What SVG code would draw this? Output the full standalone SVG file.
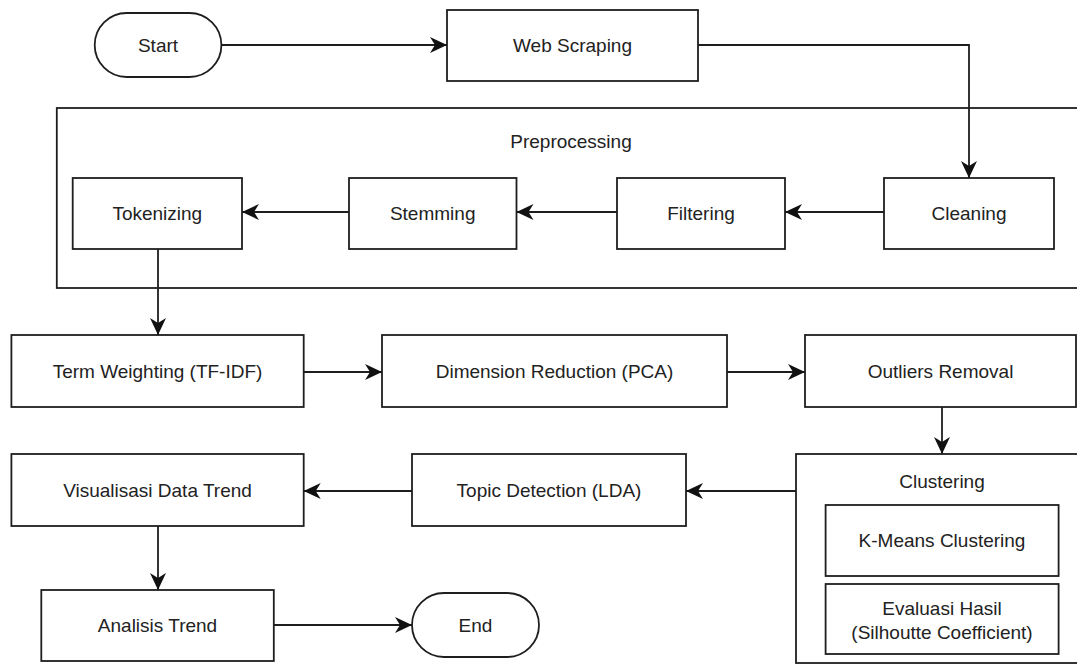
<svg xmlns="http://www.w3.org/2000/svg" width="1077" height="664" viewBox="0 0 1077 664">
  <style>
    .box { fill: #ffffff; stroke: #1e1e1e; stroke-width: 1.8; }
    .frame { fill: none; stroke: #1e1e1e; stroke-width: 1.8; }
    .lbl { font-family: "Liberation Sans", Arial, sans-serif; font-size: 19px; fill: #222222; text-anchor: middle; }
    .edge { fill: none; stroke: #1e1e1e; stroke-width: 1.8; marker-end: url(#arrow); }
  </style>
  <defs>
    <marker id="arrow" markerUnits="userSpaceOnUse" markerWidth="18" markerHeight="16" refX="17" refY="8" orient="auto">
      <path d="M0,0 L17,8 L0,16 L5,8 Z" fill="#111111"/>
    </marker>
  </defs>
  <rect width="1077" height="664" fill="#ffffff"/>

  <!-- containers -->
  <g id="preprocessing">
    <rect class="frame" x="56.8" y="108" width="1040" height="180"/>
    <text class="lbl" x="571" y="147.5">Preprocessing</text>
  </g>
  <g id="clustering">
    <rect class="box" x="796" y="454" width="300" height="209"/>
    <text class="lbl" x="942" y="487.5">Clustering</text>
  </g>

  <!-- process steps -->
  <g id="start">
    <rect class="box" x="94.7" y="13" width="126.7" height="64" rx="32" ry="32"/>
    <text class="lbl" x="158" y="51.5">Start</text>
  </g>
  <g id="web-scraping">
    <rect class="box" x="447" y="10" width="251" height="71"/>
    <text class="lbl" x="572.5" y="52">Web Scraping</text>
  </g>
  <g id="cleaning">
    <rect class="box" x="884" y="178" width="170" height="71"/>
    <text class="lbl" x="969" y="220">Cleaning</text>
  </g>
  <g id="filtering">
    <rect class="box" x="617" y="178" width="168" height="71"/>
    <text class="lbl" x="701" y="220">Filtering</text>
  </g>
  <g id="stemming">
    <rect class="box" x="349" y="178" width="167.5" height="71"/>
    <text class="lbl" x="432.7" y="220">Stemming</text>
  </g>
  <g id="tokenizing">
    <rect class="box" x="72.7" y="178" width="169.3" height="71"/>
    <text class="lbl" x="157.3" y="220">Tokenizing</text>
  </g>
  <g id="term-weighting">
    <rect class="box" x="11.4" y="335" width="292.3" height="72"/>
    <text class="lbl" x="157.5" y="377.5">Term Weighting (TF-IDF)</text>
  </g>
  <g id="dimension-reduction">
    <rect class="box" x="382" y="335" width="345" height="72"/>
    <text class="lbl" x="554.5" y="377.5">Dimension Reduction (PCA)</text>
  </g>
  <g id="outliers-removal">
    <rect class="box" x="805" y="335" width="271" height="72"/>
    <text class="lbl" x="940.5" y="377.5">Outliers Removal</text>
  </g>
  <g id="k-means">
    <rect class="box" x="825.6" y="505" width="233" height="71"/>
    <text class="lbl" x="942" y="547">K-Means Clustering</text>
  </g>
  <g id="evaluasi-hasil">
    <rect class="box" x="825.6" y="584" width="233" height="70"/>
    <text class="lbl" x="942" y="614.5">Evaluasi Hasil</text>
    <text class="lbl" x="942" y="638.5">(Silhoutte Coefficient)</text>
  </g>
  <g id="topic-detection">
    <rect class="box" x="412" y="454" width="274" height="72"/>
    <text class="lbl" x="549" y="496.5">Topic Detection (LDA)</text>
  </g>
  <g id="visualisasi">
    <rect class="box" x="11.4" y="454" width="292.3" height="72"/>
    <text class="lbl" x="157.5" y="496.5">Visualisasi Data Trend</text>
  </g>
  <g id="analisis-trend">
    <rect class="box" x="41.3" y="590" width="232.5" height="71"/>
    <text class="lbl" x="157.5" y="632">Analisis Trend</text>
  </g>
  <g id="end">
    <rect class="box" x="412" y="593" width="127" height="64" rx="32" ry="32"/>
    <text class="lbl" x="475.5" y="631.5">End</text>
  </g>

  <!-- connectors -->
  <g id="connectors">
    <path class="edge" d="M221.4,45 L447,45"/>
    <path class="edge" d="M698,45 L969,45 L969,178"/>
    <path class="edge" d="M884,212 L785,212"/>
    <path class="edge" d="M617,212 L516.5,212"/>
    <path class="edge" d="M349,212 L242,212"/>
    <path class="edge" d="M158,249 L158,335"/>
    <path class="edge" d="M303.7,372 L382,372"/>
    <path class="edge" d="M727,372 L805,372"/>
    <path class="edge" d="M942,407 L942,454"/>
    <path class="edge" d="M796,491 L686,491"/>
    <path class="edge" d="M412,491 L303.7,491"/>
    <path class="edge" d="M158,526 L158,590"/>
    <path class="edge" d="M273.8,625 L412,625"/>
  </g>
</svg>
